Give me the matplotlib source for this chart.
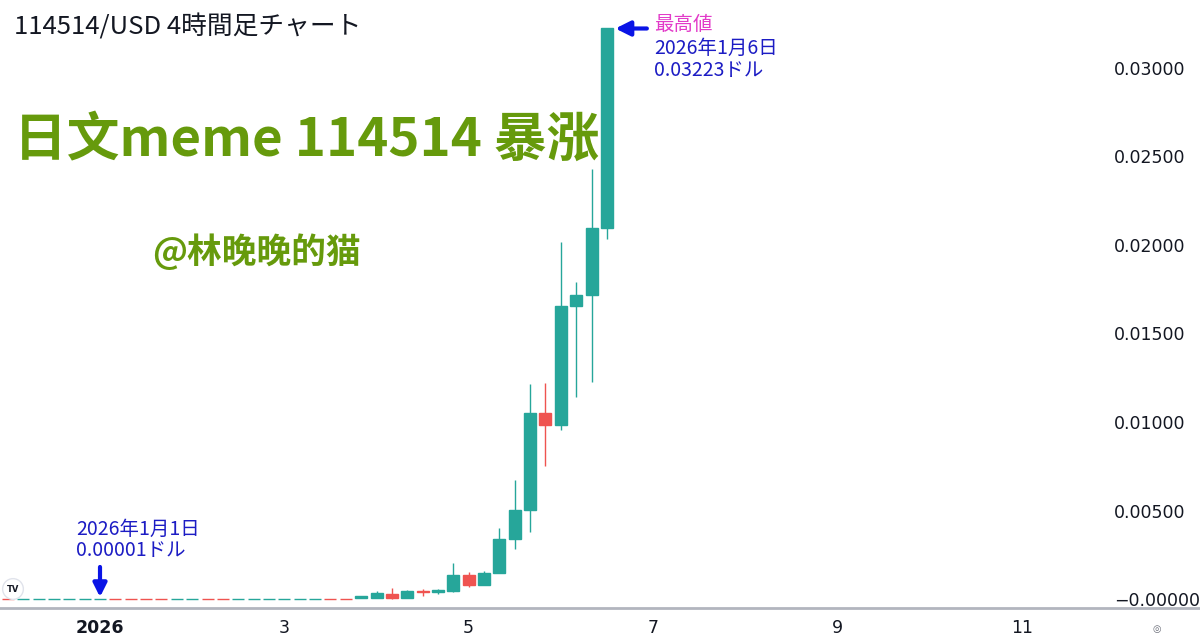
import numpy as np
import pandas as pd
import matplotlib
matplotlib.use('Agg')
import matplotlib.pyplot as plt
from matplotlib.lines import Line2D

# 4h candles, 114514/USD
start = '2025-12-31 00:00'
n_flat = 23
flat_dir = ['r', 'g', 'g', 'g', 'g', 'g', 'g', 'r', 'r', 'r', 'r', 'g',
            'g', 'r', 'r', 'g', 'g', 'g', 'g', 'g', 'g', 'r', 'r']
flat_price = 0.00001

opens_rise = [0.00005, 0.00005, 0.00030, 0.00004, 0.00045, 0.00040, 0.00047,
              0.00134, 0.00079, 0.00149, 0.00339, 0.00501, 0.01053, 0.00983,
              0.01657, 0.01716, 0.02096]
closes_rise = [0.00018, 0.00035, 0.00006, 0.00045, 0.00040, 0.00049, 0.00134,
               0.00079, 0.00149, 0.00339, 0.00501, 0.01053, 0.00983, 0.01657,
               0.01716, 0.02096, 0.03223]
highs_rise = [0.00018, 0.00045, 0.00064, 0.00051, 0.00055, 0.00056, 0.00202,
              0.00154, 0.00160, 0.00403, 0.00672, 0.01213, 0.01222, 0.02019,
              0.01793, 0.02429, 0.03223]
lows_rise = [0.00005, 0.00005, 0.00000, 0.00004, 0.00017, 0.00027, 0.00041,
             0.00066, 0.00079, 0.00149, 0.00282, 0.00379, 0.00751, 0.00955,
             0.01143, 0.01226, 0.02032]

day_ticks = ['2026-01-01', '2026-01-03', '2026-01-05', '2026-01-07',
             '2026-01-09', '2026-01-11']
day_labels = ['2026', '3', '5', '7', '9', '11']
price_ticks = [0.0, 0.005, 0.010, 0.015, 0.020, 0.025, 0.030]
price_labels = ['\u22120.00000', '0.00500', '0.01000', '0.01500',
                '0.02000', '0.02500', '0.03000']

GREEN = '#26a69a'
RED = '#ef5350'
TEXT_GREEN = '#669a0c'
JP = ['Noto Sans CJK JP', 'DejaVu Sans']

# flat section: tiny body, direction only matters for colour
eps = 0.0000005
opens = [flat_price + (eps if d == 'r' else 0) for d in flat_dir] + opens_rise
closes = [flat_price + (eps if d == 'g' else 0) for d in flat_dir] + closes_rise
highs = [flat_price + eps] * n_flat + highs_rise
lows = [flat_price] * n_flat + lows_rise

opens = np.array(opens)
closes = np.array(closes)
highs = np.array(highs)
lows = np.array(lows)

t0 = pd.Timestamp('2026-01-01')
times = pd.date_range(start, periods=len(opens), freq='4h')
x = np.asarray((times - t0) / pd.Timedelta(hours=4), dtype=float)
tick_x = [(pd.Timestamp(d) - t0) / pd.Timedelta(hours=4) for d in day_ticks]
colors = [GREEN if c >= o else RED for o, c in zip(opens, closes)]

fig = plt.figure(figsize=(12, 6.44), dpi=100)
ax = fig.add_axes([0.0, 0.0559, 0.9167, 0.9441])

ax.vlines(x, lows, highs, colors=colors, linewidth=1.0, zorder=2)
ax.bar(x, np.abs(closes - opens), bottom=np.minimum(opens, closes),
       width=0.78, color=colors, edgecolor=colors, linewidth=1.0, zorder=3)

ax.set_xlim(-6.51, 65.1)
ax.set_ylim(-0.000508, 0.03384)

ax.set_xticks(tick_x)
ax.set_xticklabels(day_labels, fontsize=12.5, color='#131722')
ax.get_xticklabels()[0].set_fontweight('bold')
ax.tick_params(axis='x', length=0, pad=8)

ax.yaxis.tick_right()
ax.set_yticks(price_ticks)
ax.set_yticklabels(price_labels, fontsize=12.5, color='#131722')
ax.tick_params(axis='y', length=0, pad=10)

for side in ['top', 'right', 'left', 'bottom']:
    ax.spines[side].set_visible(False)

# time axis line across the whole width
fig.add_artist(Line2D([0, 1], [0.0559, 0.0559], color='#b2b5be', lw=2,
                      transform=fig.transFigure))

# title and captions
fig.text(14 / 1200, 1 - 27 / 644, '114514/USD 4時間足チャート',
         fontsize=18.5, family=JP, color='#131722', va='center')
fig.text(14 / 1200, 1 - 140 / 644, '日文meme 114514 暴涨',
         fontsize=38, family=['Noto Sans CJK SC', 'DejaVu Sans'],
         fontweight='bold', color=TEXT_GREEN, va='center')
fig.text(152 / 1200, 1 - 252 / 644, '@林晚晚的猫',
         fontsize=25, family=['Noto Sans CJK SC', 'DejaVu Sans'],
         fontweight='bold', color=TEXT_GREEN, va='center')

# high annotation
ix = int(np.argmax(highs))
ax.annotate('', xy=(x[ix] + 0.55, highs[ix]), xytext=(x[ix] + 2.6, highs[ix]),
            arrowprops=dict(arrowstyle='-|>', color='#0a14e6', lw=3,
                            mutation_scale=22, shrinkA=0, shrinkB=0))
ax.annotate('最高値', xy=(x[ix] + 2.6, highs[ix]), xytext=(5, 3),
            textcoords='offset points', fontsize=14, family=JP,
            color='#e23bc9', va='center', ha='left')
ax.annotate(f'2026年1月6日\n{highs[ix]:.5f}ドル', xy=(x[ix] + 2.6, highs[ix]),
            xytext=(5, -7), textcoords='offset points', fontsize=14,
            family=JP, color='#1c1cc4', va='top', ha='left', linespacing=1.05)

# start annotation
i0 = int(np.argmin(np.abs(x)))
ax.annotate('', xy=(x[i0], flat_price + 0.0001),
            xytext=(x[i0], flat_price + 0.0018),
            arrowprops=dict(arrowstyle='-|>', color='#0a14e6', lw=3,
                            mutation_scale=20, shrinkA=0, shrinkB=0))
ax.annotate(f'2026年1月1日\n{flat_price:.5f}ドル', xy=(x[i0], flat_price + 0.0018),
            xytext=(-17, 4), textcoords='offset points', fontsize=14,
            family=JP, color='#1c1cc4', va='bottom', ha='left',
            linespacing=1.05)

# TradingView badge and small icon
fig.text(13 / 1200, 1 - 589 / 644, 'TV', fontsize=6, fontweight='bold',
         color='#131722', ha='center', va='center',
         bbox=dict(boxstyle='circle,pad=0.5', fc='white', ec='#e0e3eb', lw=1))
fig.text(1157 / 1200, 1 - 629 / 644, '\u25ce', fontsize=7, color='#6a6d78',
         ha='center', va='center')

fig.savefig('out.png', dpi=100)
